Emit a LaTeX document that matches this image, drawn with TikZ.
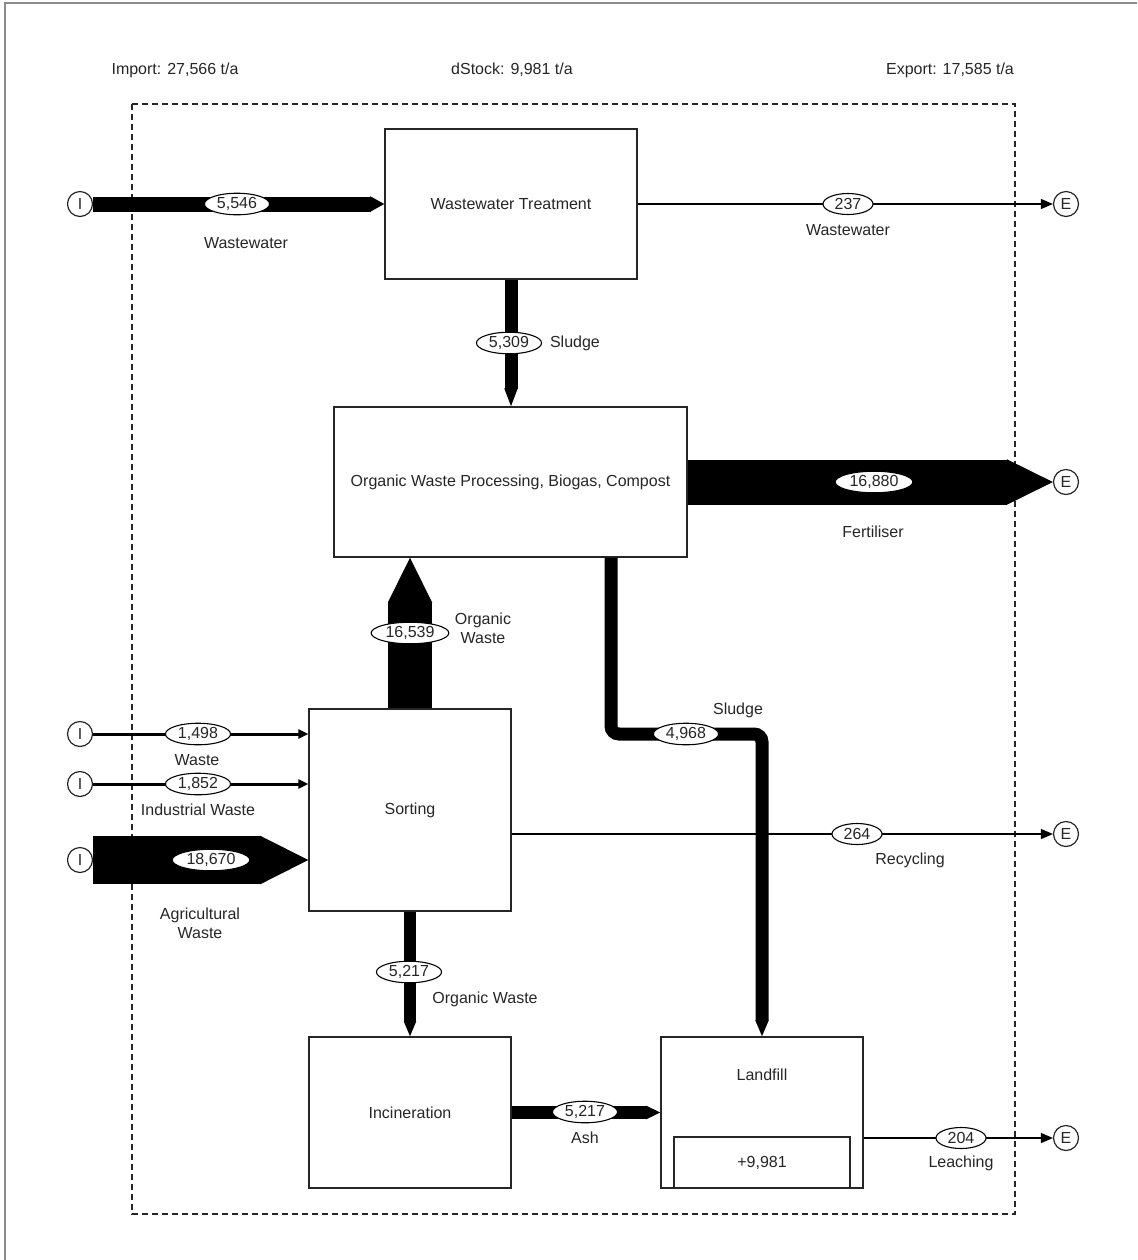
\documentclass[tikz,border=0pt]{standalone}
\usepackage{fontspec}
\setmainfont{Liberation Sans}
\usetikzlibrary{arrows.meta,shapes.geometric}

\begin{document}
\begin{tikzpicture}[x=0.5pt,y=-0.5pt,
    font=\fontsize{8}{9.5}\selectfont,
    process/.style={draw=black!85, line width=0.7pt, rectangle, text=black!85},
    port/.style={draw=black!85, circle, line width=0.6pt, minimum size=12.5pt, inner sep=0pt, fill=white, text=black!85},
    val/.style={draw=black, ellipse, line width=0.55pt, fill=white, inner xsep=1.5pt, inner ysep=0.5pt, minimum width=25pt, minimum height=10.5pt, text=black!85},
    lbl/.style={text=black!85, align=center},
    band/.style 2 args={line width=#1, -{Triangle[length=#2, width=#1, line width=1pt]}},
    thinflow/.style={line width=0.7pt, -{Triangle[length=6pt, width=5pt]}},
    waste/.style={line width=1.5pt, -{Triangle[length=5pt, width=4.5pt]}}]
    \useasboundingbox (0,0) rectangle (1137,1260);
    % frame and system boundary
    \draw[black!45, line width=0.8pt] (5,1260) -- (5,3) -- (1137,3);
    \draw[black!85, line width=0.75pt, dash pattern=on 3pt off 2pt] (132,104) rectangle (1015,1214);
    % header
    \node[lbl] (import) at (175,70) {Import: 27,566 t/a};
    \node[lbl] (dstock) at (512,70) {dStock: 9,981 t/a};
    \node[lbl] (export) at (950,70) {Export: 17,585 t/a};
    % processes
    \node[process, minimum width=126pt, minimum height=75pt] (wwt) at (511,204) {Wastewater Treatment};
    \node[process, minimum width=176.5pt, minimum height=75pt] (owp) at (510.5,482) {Organic Waste Processing, Biogas, Compost};
    \node[process, minimum width=101pt, minimum height=101pt] (sort) at (410,810) {Sorting};
    \node[process, minimum width=101pt, minimum height=75.5pt] (inc) at (410,1112.5) {Incineration};
    \node[process, minimum width=101pt, minimum height=75.5pt] (land) at (762,1112.5) {};
    \node[lbl] (landlbl) at (762,1075) {Landfill};
    \node[process, minimum width=88pt, minimum height=25.5pt] (stock) at (762,1162.5) {+9,981};
    % import and export
    \foreach \n/\y in {ww/204, waste/734, ind/784, agr/860}
        \node[port] (imp\n) at (80,\y) {I};
    \foreach \n/\y in {ww/204, fert/482, rec/834, leach/1138}
        \node[port] (exp\n) at (1066,\y) {E};
    % flows
    \coordinate (sx) at (611,0);
    \coordinate (sbend) at (762,734);
    \draw[band={7.5pt}{7pt}] (impww) -- (wwt);
    \draw[thinflow] (wwt) -- (expww);
    \draw[band={6.5pt}{9pt}] (wwt.south) -- (wwt.south |- owp.north);
    \draw[band={22.5pt}{23pt}] (owp) -- (expfert);
    \draw[band={22pt}{22.5pt}] (sort.north) -- (sort.north |- owp.south);
    \draw[band={6.5pt}{8pt}, rounded corners=4pt] (owp.south -| sx) |- (sbend) -- (land.north);
    \draw[waste] (impwaste) -- (impwaste -| sort.west);
    \draw[waste] (impind) -- (impind -| sort.west);
    \draw[band={24pt}{24pt}] (impagr) -- (impagr -| sort.west);
    \draw[thinflow] (sort.east |- exprec) -- (exprec);
    \draw[band={6pt}{7.5pt}] (sort) -- (inc);
    \draw[band={6.5pt}{7pt}] (inc) -- (land);
    \draw[thinflow] (land.east |- expleach) -- (expleach);
    % values
    \node[val] (vww) at (237,204) {5,546};
    \node[val] (vwwout) at (848,204) {237};
    \node[val] (vsludge) at (509,343) {5,309};
    \node[val] (vfert) at (874,482) {16,880};
    \node[val] (vorg) at (410,633) {16,539};
    \node[val] (vsludgeb) at (686,734) {4,968};
    \node[val] (vwaste) at (198,734) {1,498};
    \node[val] (vind) at (198,784) {1,852};
    \node[val] (vagr) at (211,860) {18,670};
    \node[val] (vrec) at (857,834) {264};
    \node[val] (vinc) at (409,972) {5,217};
    \node[val] (vash) at (585,1112) {5,217};
    \node[val] (vleach) at (961,1138) {204};
    % labels
    \node[lbl] (lww) at (246,243) {Wastewater};
    \node[lbl] (lwwout) at (848,230) {Wastewater};
    \node[lbl, anchor=west] (lsludge) at (543,343) {Sludge};
    \node[lbl] (lfert) at (873,532) {Fertiliser};
    \node[lbl] (lorg) at (483,628) {Organic\\Waste};
    \node[lbl] (lsludgeb) at (738,710) {Sludge};
    \node[lbl] (lwaste) at (197,760) {Waste};
    \node[lbl] (lind) at (198,810) {Industrial Waste};
    \node[lbl] (lagr) at (200,923) {Agricultural\\Waste};
    \node[lbl] (lrec) at (910,860) {Recycling};
    \node[lbl] (linc) at (485,999) {Organic Waste};
    \node[lbl] (lash) at (585,1138) {Ash};
    \node[lbl] (lleach) at (961,1163) {Leaching};
\end{tikzpicture}
\end{document}
